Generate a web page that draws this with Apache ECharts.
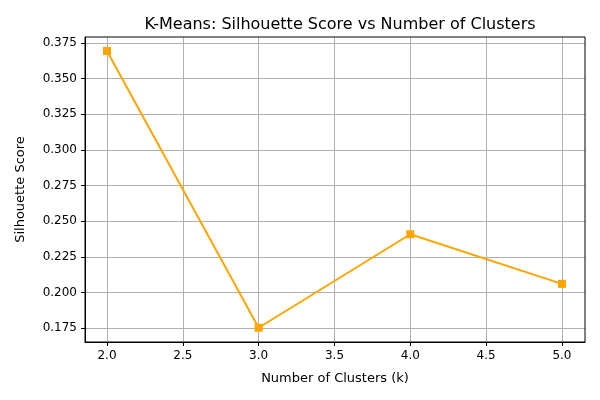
<!DOCTYPE html>
<html lang="en">
<head>
  <meta charset="UTF-8">
  <script src="https://cdn.jsdelivr.net/npm/echarts@6/dist/echarts.min.js"></script>
  <style>body{margin:0}#main{width:600px;height:400px}</style>
</head>
<body>
  <div id="main"></div>
  <script>
    // data
    let clusters = [2, 3, 4, 5]
    let scores = [0.3694, 0.1752, 0.2408, 0.2060]
    let xTicks = [2.0, 2.5, 3.0, 3.5, 4.0, 4.5, 5.0]
    let yTicks = [0.175, 0.2, 0.225, 0.25, 0.275, 0.3, 0.325, 0.35, 0.375]

    let font = 'DejaVu Sans'
    let chart = echarts.init(document.getElementById('main'))
    chart.setOption({
      animation: false,
      textStyle: { fontFamily: font },
      title: {
        text: 'K-Means: Silhouette Score vs Number of Clusters',
        left: 335, top: 12, textAlign: 'center',
        textStyle: { fontFamily: font, fontWeight: 'normal', fontSize: 16, color: '#000' }
      },
      grid: { left: 85, right: 15, top: 37, bottom: 58 },
      xAxis: {
        type: 'value', min: 1.855, max: 5.152,
        name: 'Number of Clusters (k)', nameLocation: 'middle', nameGap: 30,
        nameTextStyle: { fontSize: 13, color: '#000' },
        axisLine: { onZero: false, lineStyle: { color: '#000' } },
        axisTick: { show: true, customValues: xTicks, length: 4, lineStyle: { color: '#000' } },
        axisLabel: { customValues: xTicks, formatter: v => v.toFixed(1), color: '#000', fontSize: 12 },
        splitLine: { show: true, lineStyle: { color: '#b0b0b0' } }
      },
      yAxis: {
        type: 'value', min: 0.1652, max: 0.3792,
        name: 'Silhouette Score', nameLocation: 'middle', nameGap: 58,
        nameTextStyle: { fontSize: 13, color: '#000' },
        axisLine: { show: true, lineStyle: { color: '#000' } },
        axisTick: { show: true, customValues: yTicks, length: 4, lineStyle: { color: '#000' } },
        axisLabel: { customValues: yTicks, formatter: v => v.toFixed(3), color: '#000', fontSize: 12 },
        splitLine: { show: true, lineStyle: { color: '#b0b0b0' } }
      },
      series: [{
        type: 'line',
        data: clusters.map((c, i) => [c, scores[i]]),
        symbol: 'rect', symbolSize: 8,
        itemStyle: { color: 'orange' },
        lineStyle: { color: 'orange', width: 2 }
      }]
    })
    // frame on top and right like the original
    chart.setOption({
      graphic: [{ type: 'rect', shape: { x: 85, y: 37, width: 500, height: 305 }, style: { fill: null, stroke: '#000', lineWidth: 1 }, silent: true }]
    })
  </script>
</body>
</html>
